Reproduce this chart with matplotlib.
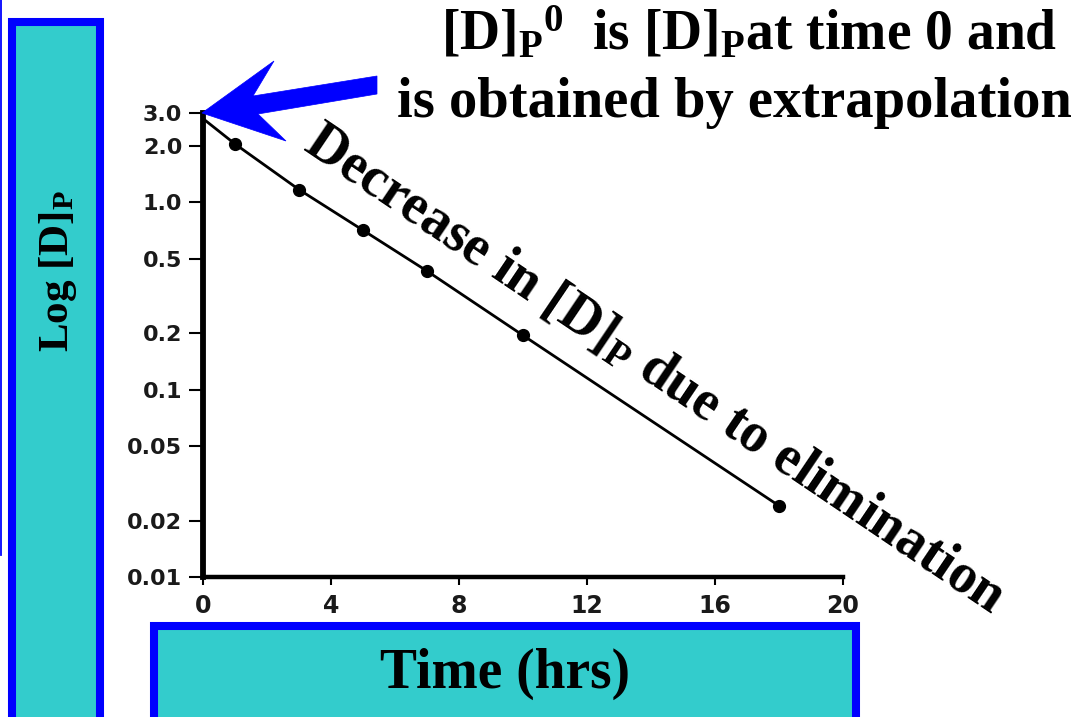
import matplotlib.pyplot as plt
from matplotlib.patches import Rectangle, Polygon
from matplotlib.lines import Line2D

# data
times = [1, 3, 5, 7, 10, 18]
conc = [2.05, 1.17, 0.71, 0.43, 0.195, 0.024]
c0 = 2.8  # extrapolated value at t = 0
xticks = [0, 4, 8, 12, 16, 20]
yticks = [3.0, 2.0, 1.0, 0.5, 0.2, 0.1, 0.05, 0.02, 0.01]
ytick_labels = ["3.0", "2.0", "1.0", "0.5", "0.2", "0.1", "0.05", "0.02", "0.01"]

W, H = 1090, 717
TEAL = "#33CCCC"
BLUE = "#0000FF"

plt.rcParams['mathtext.fontset'] = 'custom'
plt.rcParams['mathtext.rm'] = 'Liberation Serif:bold'
plt.rcParams['mathtext.it'] = 'Liberation Serif:bold'
plt.rcParams['mathtext.bf'] = 'Liberation Serif:bold'

def fx(px):
    return px / W

def fy(py):
    return 1 - py / H

fig = plt.figure(figsize=(W / 100, H / 100), dpi=100)
fig.patch.set_facecolor("white")

ax = fig.add_axes([fx(203), fy(577), (843 - 203) / W, (577 - 113) / H])
ax.set_yscale("log")
ax.set_xlim(0, 20)
ax.set_ylim(0.01, 3.0)

ax.plot([0] + times, [c0] + conc, color="black", lw=2.0, clip_on=False, zorder=3)
ax.plot(times, conc, "o", color="black", ms=8.5, clip_on=False, zorder=4)

for s in ["top", "right"]:
    ax.spines[s].set_visible(False)
ax.spines["left"].set_linewidth(4.2)
ax.spines["bottom"].set_linewidth(3.2)

ax.set_xticks(xticks)
ax.set_xticklabels([str(t) for t in xticks])
ax.set_yticks(yticks)
ax.set_yticklabels(ytick_labels)
ax.minorticks_off()
ax.tick_params(axis="x", direction="out", length=6, width=1.5, pad=6)
ax.tick_params(axis="y", direction="out", length=10, width=1.5, pad=5)
for lab in ax.get_xticklabels():
    lab.set_fontsize(17)
    lab.set_fontweight("bold")
    lab.set_color("#1a1a1a")
for lab in ax.get_yticklabels():
    lab.set_fontsize(16)
    lab.set_fontweight("bold")
    lab.set_color("#1a1a1a")

# teal label boxes
fig.patches.append(Rectangle((fx(12), fy(730)), (100 - 12) / W, (730 - 22) / H,
                             transform=fig.transFigure, facecolor=TEAL,
                             edgecolor=BLUE, lw=5.8, zorder=1))
fig.patches.append(Rectangle((fx(154), fy(730)), (856 - 154) / W, (730 - 626) / H,
                             transform=fig.transFigure, facecolor=TEAL,
                             edgecolor=BLUE, lw=5.8, zorder=1))
fig.lines.append(Line2D([fx(0.8), fx(0.8)], [fy(0), fy(555)], transform=fig.transFigure,
                        color=BLUE, lw=1.3))

serif = dict(family="Liberation Serif", weight="bold", color="black")

fig.text(fx(58), fy(271), r"Log [D]$_\mathrm{P}$", rotation=90, ha="center", va="center",
         fontsize=31, **serif)
fig.text(fx(505), fy(674), "Time (hrs)", ha="center", va="center", fontsize=40, **serif)

fig.text(fx(749), fy(50), r"[D]$_\mathrm{P}$$^\mathrm{0}$  is [D]$_\mathrm{P}$at time 0 and",
         ha="center", va="baseline", fontsize=40, **serif)
fig.text(fx(734), fy(117), "is obtained by extrapolation",
         ha="center", va="baseline", fontsize=40.8, **serif)

fig.text(fx(655), fy(370), r"Decrease in [D]$_\mathrm{P}$ due to elimination",
         rotation=-34, ha="center", va="center", fontsize=40, **serif)

# blue arrow pointing at the extrapolated intercept
arrow_px = [(202, 113), (274, 61), (253, 96), (377, 76), (377, 94),
            (258, 114), (286, 141)]
fig.patches.append(Polygon([(fx(x), fy(y)) for x, y in arrow_px], closed=True,
                           transform=fig.transFigure, facecolor=BLUE,
                           edgecolor=BLUE, lw=0.5, zorder=5))

fig.savefig("out.png", dpi=100)
